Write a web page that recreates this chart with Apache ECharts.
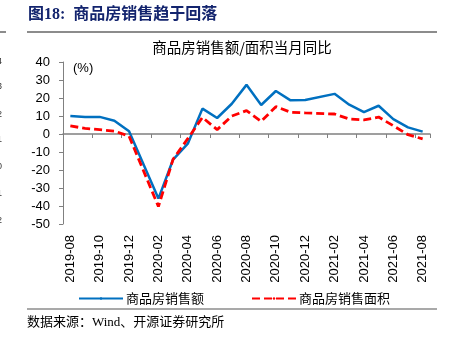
<!DOCTYPE html>
<html>
<head>
<meta charset="utf-8">
<script src="https://cdn.jsdelivr.net/npm/echarts@6/dist/echarts.min.js"></script>
<style>
  html, body { margin: 0; padding: 0; background: #fff; }
  #chart { width: 451px; height: 346px; }
</style>
</head>
<body>
<div id="chart"></div>
<script>
// Monthly categories (Jan values are folded into the Jan–Feb figure, left empty here)
const months = [
  '2019-08','2019-09','2019-10','2019-11','2019-12',
  '2020-01','2020-02','2020-03','2020-04','2020-05','2020-06','2020-07',
  '2020-08','2020-09','2020-10','2020-11','2020-12',
  '2021-01','2021-02','2021-03','2021-04','2021-05','2021-06','2021-07','2021-08'
];
// Sales value, YoY %
const salesAmount = [
  10.0, 9.5, 9.5, 7.4, 1.5,
  null, -35.9, -14.2, -5.4, 14.1, 8.9, 16.8,
  27.3, 16.1, 23.9, 18.7, 18.9,
  null, 22.3, 16.3, 12.2, 15.7, 8.3, 3.7, 1.3
];
// Sales floor area, YoY %
const salesArea = [
  4.5, 3.1, 2.4, 1.6, -1.2,
  null, -40.3, -14.0, -2.6, 9.2, 2.4, 10.0,
  13.0, 7.0, 15.2, 12.1, 11.7,
  null, 11.1, 8.3, 7.8, 9.4, 4.6, -0.4, -2.7
];
const yTicks = { min: -50, max: 40, step: 10 };

const LATIN = '"Liberation Sans", Arial, sans-serif';
const CJK = '"Liberation Serif", "Noto Sans CJK SC", serif';
const CJK_SANS = '"Noto Sans CJK SC", sans-serif';

const chart = echarts.init(document.getElementById('chart'), null, { renderer: 'canvas' });

chart.setOption({
  animation: false,
  backgroundColor: '#ffffff',
  grid: { left: 63, right: 21, top: 62, bottom: 122, containLabel: false },
  xAxis: [
    {
      type: 'category',
      data: months,
      boundaryGap: true,
      position: 'bottom',
      axisLine: { show: false, onZero: false },
      axisTick: { show: false },
      axisLabel: {
        interval: 1,
        rotate: 90,
        margin: 11,
        fontSize: 13,
        fontFamily: LATIN,
        color: '#000'
      },
      splitLine: { show: false }
    },
    {
      type: 'category',
      data: months,
      boundaryGap: true,
      position: 'bottom',
      axisLine: { show: true, onZero: true, lineStyle: { color: '#808080', width: 1.5 } },
      axisTick: { show: true, interval: 1, length: 4, inside: false, lineStyle: { color: '#808080', width: 1 } },
      axisLabel: { show: false },
      splitLine: { show: false }
    }
  ],
  yAxis: {
    type: 'value',
    min: yTicks.min,
    max: yTicks.max,
    interval: yTicks.step,
    axisLine: { show: true, lineStyle: { color: '#808080', width: 1 } },
    axisTick: { show: true, length: 4, lineStyle: { color: '#808080' } },
    axisLabel: { margin: 13, fontSize: 13, fontFamily: LATIN, color: '#000' },
    splitLine: { show: false }
  },
  legend: {
    left: 73,
    top: 287,
    itemWidth: 44,
    itemHeight: 3,
    itemGap: 47,
    textStyle: { fontFamily: CJK_SANS, fontSize: 13, color: '#000', padding: [0, 0, 0, -2] },
    data: ['商品房销售额', '商品房销售面积']
  },
  series: [
    {
      name: '商品房销售额',
      type: 'line',
      xAxisIndex: 0,
      data: salesAmount,
      connectNulls: true,
      symbol: 'none',
      lineStyle: { color: '#0070C0', width: 2.5 },
      itemStyle: { color: '#0070C0' }
    },
    {
      name: '商品房销售面积',
      type: 'line',
      xAxisIndex: 0,
      data: salesArea,
      connectNulls: true,
      symbol: 'none',
      lineStyle: { color: '#FF0000', width: 2.8, type: [8, 4] },
      itemStyle: { color: '#FF0000' }
    }
  ],
  graphic: [
    // figure heading
    {
      type: 'text', left: 28, top: 7,
      style: { text: '图18:  商品房销售趋于回落', font: 'bold 16px ' + CJK, fill: '#13246e' }
    },
    { type: 'line', shape: { x1: 27, y1: 32, x2: 437, y2: 32 }, style: { stroke: '#8c8c8c', lineWidth: 2 } },
    { type: 'line', shape: { x1: 0, y1: 32, x2: 6, y2: 32 }, style: { stroke: '#8c8c8c', lineWidth: 2 } },
    // chart title
    {
      type: 'text', x: 242, y: 47,
      style: { text: '商品房销售额/面积当月同比', font: '14.5px ' + CJK_SANS, fill: '#000', align: 'center', verticalAlign: 'middle' }
    },
    // unit
    {
      type: 'text', x: 73, y: 68,
      style: { text: '(%)', font: '13px ' + LATIN, fill: '#000', verticalAlign: 'middle' }
    },
    // source line
    { type: 'line', shape: { x1: 27, y1: 309, x2: 437, y2: 309 }, style: { stroke: '#8c8c8c', lineWidth: 1.5 } },
    {
      type: 'text', x: 27, y: 323,
      style: { text: '数据来源：Wind、开源证券研究所', font: '13px ' + CJK, fill: '#000', verticalAlign: 'middle' }
    },
    // clipped tick labels of the neighbouring panel
    { type: 'text', x: -3, y: 62, style: { text: '4', font: '9px ' + LATIN, fill: '#333', verticalAlign: 'middle' } },
    { type: 'text', x: -3, y: 87, style: { text: '3', font: '9px ' + LATIN, fill: '#333', verticalAlign: 'middle' } },
    { type: 'text', x: -3, y: 115, style: { text: '2', font: '9px ' + LATIN, fill: '#333', verticalAlign: 'middle' } },
    { type: 'text', x: -3, y: 140, style: { text: '1', font: '9px ' + LATIN, fill: '#333', verticalAlign: 'middle' } },
    { type: 'text', x: -3, y: 167, style: { text: '0', font: '9px ' + LATIN, fill: '#333', verticalAlign: 'middle' } },
    { type: 'text', x: -3, y: 194, style: { text: '1', font: '9px ' + LATIN, fill: '#333', verticalAlign: 'middle' } },
    { type: 'text', x: -3, y: 221, style: { text: '2', font: '9px ' + LATIN, fill: '#333', verticalAlign: 'middle' } }
  ]
});
</script>
</body>
</html>
